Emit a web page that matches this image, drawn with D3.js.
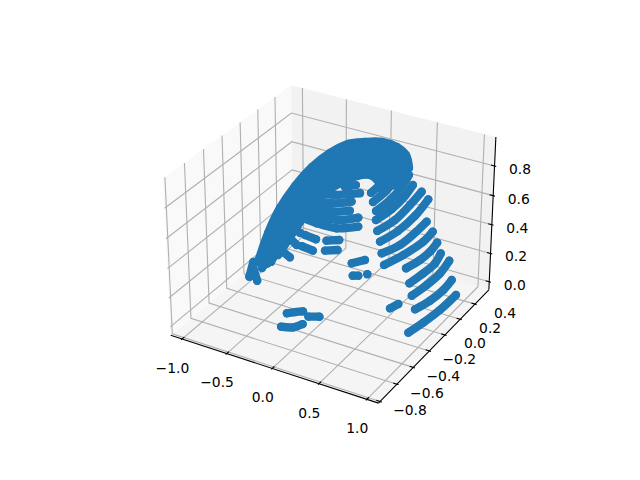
<!DOCTYPE html>
<html><head><meta charset="utf-8">
<style>html,body{margin:0;background:#fff}svg{display:block}text{font-family:"DejaVu Sans";font-size:13.89px;fill:#000}</style>
<script src="https://cdn.jsdelivr.net/npm/d3@7"></script></head><body>
<svg id="c" width="640" height="480"></svg>
<script>
const xLim=[-1.13,1.12], yLim=[-0.818,0.592], zLim=[-0.0583,0.992];
const xTicks=[-1,-0.5,0,0.5,1], yTicks=[-0.8,-0.6,-0.4,-0.2,0,0.2,0.4], zTicks=[0,0.2,0.4,0.6,0.8];
const xTickLabels=["\u22121.0","\u22120.5","0.0","0.5","1.0"];
const yTickLabels=["\u22120.8","\u22120.6","\u22120.4","\u22120.2","0.0","0.2","0.4"];
const zTickLabels=["0.0","0.2","0.4","0.6","0.8"];

// points, as [x, y, z], one list per visible band
const bandR1=[[.925,-.237,.05],[.965,-.097,.05],[.998,.078,.05],[1.007,.277,.05]];
const bandR2=[[.963,-.205,.2],[1.013,-.077,.2],[1.033,.069,.2],[1.019,.196,.2]];
const bandR3=[[.943,-.226,.3],[.975,-.077,.3],[.985,.079,.3],[.954,.237,.3]];
const bandR4=[[.942,-.258,.4],[.97,-.119,.4],[.98,.016,.4],[.942,.135,.4]];
const bandR5=[[.912,-.268,.5],[.954,-.146,.5],[.964,-.033,.5],[.945,.08,.5]];
const bandR6=[[.71,-.299,.5],[.778,-.144,.5],[.824,.05,.5],[.813,.182,.5]];
const bandR7=[[.719,-.34,.6],[.792,-.205,.6],[.807,-.027,.6],[.803,.112,.6]];
const bandR8=[[.736,-.382,.7],[.785,-.224,.7],[.788,-.021,.7],[.747,.194,.7]];
const bandR9=[[.621,-.283,.7],[.664,-.121,.7],[.65,.08,.7],[.624,.257,.7]];
const bandR10=[[.648,-.332,.8],[.675,-.174,.8],[.662,0,.8],[.626,.14,.8]];
const bandR11=[[.568,-.24,.8],[.579,-.086,.8],[.556,.086,.8],[.501,.238,.8]];
const bandR12=[[.462,-.156,.8],[.464,-.003,.8],[.433,.156,.8],[.377,.294,.8]];
const bandR13=[[.362,-.067,.8],[.357,.071,.8],[.324,.232,.8]];
const domeT1=[[-.9,-.061,.1],[-.817,-.021,.3],[-.825,.13,.4],[-.776,.26,.5],[-.68,.364,.6],[-.521,.413,.7],[-.31,.404,.8],[-.037,.308,.9],[.103,.359,.9],[.276,.346,.9],[.285,.453,.8],[.296,.483,.7]];
const domeT12=[[-.86,-.067,.1],[-.757,-.049,.3],[-.758,.096,.4],[-.713,.224,.5],[-.617,.327,.6],[-.461,.367,.7],[-.26,.361,.8],[-.068,.349,.85],[.07,.398,.85],[.236,.376,.85],[.248,.467,.75],[.314,.424,.7]];
const domeT2=[[-.819,-.073,.1],[-.696,-.076,.3],[-.691,.062,.4],[-.65,.187,.5],[-.553,.289,.6],[-.401,.32,.7],[-.211,.318,.8],[-.098,.389,.8],[.036,.437,.8],[.195,.405,.8],[.21,.481,.7],[.332,.364,.7]];
const domeT23=[[-.805,-.047,.1],[-.652,-.08,.3],[-.636,.047,.4],[-.584,.153,.5],[-.49,.253,.6],[-.339,.283,.7],[-.157,.27,.8],[-.05,.347,.8],[.08,.387,.8],[.232,.345,.8],[.238,.418,.7],[.346,.304,.7]];
const domeT3=[[-.79,-.02,.1],[-.607,-.085,.3],[-.581,.031,.4],[-.517,.119,.5],[-.428,.216,.6],[-.277,.246,.7],[-.103,.223,.8],[-.001,.305,.8],[.125,.336,.8],[.268,.284,.8],[.265,.354,.7],[.36,.244,.7]];
const domeT34=[[-.593,-.06,.3],[-.547,.036,.4],[-.367,.18,.6],[-.225,.207,.7],[-.046,.178,.8],[.052,.258,.8],[.166,.277,.8],[.23,.299,.75],[.288,.283,.7]];
const domeT4a=[[-.656,-.072,.2],[-.578,-.034,.3],[-.512,.041,.4]];
const domeT4b=[[-.305,.143,.6],[-.172,.167,.7],[.012,.133,.8],[.105,.211,.8],[.206,.218,.8],[.191,.313,.7],[.311,.211,.7]];
const domeT45=[[.05,.103,.8],[.144,.167,.8],[.185,.232,.75]];
const domeT5=[[-.148,.045,.7],[-.109,.146,.7],[.087,.073,.8],[.183,.123,.8],[.164,.245,.7],[.31,.14,.7]];
const domeT6=[[.096,-.08,.8],[.166,-.027,.8]];
const bandL1=[[-.271,-.322,.7],[-.125,-.361,.7],[.071,-.379,.7],[.275,-.372,.7],[.432,-.294,.7]];
const bandL2=[[-.299,-.236,.7],[-.164,-.283,.7],[.035,-.303,.7],[.225,-.279,.7],[.35,-.202,.7]];
const bandL3=[[-.098,-.354,.8],[.074,-.382,.8],[.237,-.369,.8],[.359,-.312,.8]];
const bandL4=[[-.151,-.257,.8],[-.006,-.297,.8],[.156,-.284,.8],[.289,-.214,.8]];
const bandL5=[[-.191,-.175,.8],[-.045,-.216,.8],[.104,-.186,.8],[.277,-.102,.8]];
const stubF1=[[.169,-.374,.6],[.265,-.33,.6]];
const stubF2=[[.248,-.476,.6],[.342,-.434,.6]];
const stubF3=[[-.055,-.379,.6],[.073,-.39,.6]];
const stubF4=[[.022,-.498,.6],[.153,-.511,.6]];
const stubF5=[[-.258,-.409,.6],[-.028,-.502,.6]];
const stubF6=[[-.16,-.58,.6],[.033,-.641,.6]];
const stubF7=[[-.389,-.296,.6],[-.113,-.373,.6]];
const footW1=[[-.826,-.236,.1],[-.941,-.075,.1]];
const footW2=[[-.72,-.252,.1],[-.892,-.127,.1]];
const footW3=[[-.806,-.11,.1],[-.924,.128,.1]];
const blobB1=[[.438,-.375,.5],[.515,-.305,.5]];
const blobB2=[[.555,-.493,.5],[.599,-.477,.5]];
const blobB3=[[.657,-.437,.5]];
const blobR=[[.753,-.268,.2],[.784,-.202,.2]];
const blobC1=[[.04,-.755,.2],[.143,-.726,.2],[.189,-.669,.2]];
const blobC2=[[-.033,-.615,.2],[.021,-.58,.2],[.081,-.551,.2]];
const blobC3=[[.17,-.584,.2],[.258,-.553,.2]];
const bands=[domeT1,domeT12,domeT2,domeT23,domeT3,domeT34,domeT4a,domeT4b,domeT45,domeT5,domeT6,footW1,footW2,footW3,stubF7,stubF5,stubF6,stubF3,stubF4,stubF1,stubF2,
  bandL5,bandL4,bandL3,bandL2,bandL1,blobB1,blobB2,blobB3,blobR,blobC1,blobC2,blobC3,
  bandR13,bandR12,bandR11,bandR10,bandR9,bandR8,bandR7,bandR6,bandR5,bandR4,bandR3,bandR2,bandR1];

// matplotlib-style 3D view: elev 30, azim -60, box aspect 4:4:3
const half=[0.5952,0.5952,0.4464];
const sx=d3.scaleLinear().domain(xLim).range([-half[0],half[0]]);
const sy=d3.scaleLinear().domain(yLim).range([-half[1],half[1]]);
const sz=d3.scaleLinear().domain(zLim).range([-half[2],half[2]]);
const el=30*Math.PI/180, az=-60*Math.PI/180, dist=10;
const w=[Math.cos(el)*Math.cos(az),Math.cos(el)*Math.sin(az),Math.sin(el)];
const u=[-Math.sin(az),Math.cos(az),0];
const v=[w[1]*u[2]-w[2]*u[1],w[2]*u[0]-w[0]*u[2],w[0]*u[1]-w[1]*u[0]];
const dot=(p,q)=>p[0]*q[0]+p[1]*q[1]+p[2]*q[2];
const px=d3.scaleLinear().domain([0,0.1]).range([332.7,532.7]);
const py=d3.scaleLinear().domain([0,0.1]).range([236.5,36.5]);
function proj(d){
  const q=[sx(d[0]),sy(d[1]),sz(d[2])], D=dist-dot(q,w);
  return [px(dot(q,u)/D),py(dot(q,v)/D)];
}
const svg=d3.select("#c");
const line=d3.line();
const curve=d3.line().curve(d3.curveCatmullRom.alpha(0.5));
const [x0,x1]=xLim,[y0,y1]=yLim,[z0,z1]=zLim;
const poly=(pts,fill)=>svg.append("path").attr("d",line(pts.map(proj))+"Z").attr("fill",fill);
poly([[x0,y0,z0],[x0,y1,z0],[x0,y1,z1],[x0,y0,z1]],"#f9f9f9");
poly([[x0,y1,z0],[x1,y1,z0],[x1,y1,z1],[x0,y1,z1]],"#f2f2f2");
poly([[x0,y0,z0],[x1,y0,z0],[x1,y1,z0],[x0,y1,z0]],"#f5f5f5");
const strokeL=(pts,col)=>svg.append("path").attr("d",line(pts.map(proj))).attr("fill","none").attr("stroke",col).attr("stroke-width",1.11);
const gridC="#b0b0b0";
xTicks.forEach(t=>strokeL([[t,y0,z0],[t,y1,z0],[t,y1,z1]],gridC));
yTicks.forEach(t=>strokeL([[x1,t,z0],[x0,t,z0],[x0,t,z1]],gridC));
zTicks.forEach(t=>strokeL([[x0,y0,t],[x0,y1,t],[x1,y1,t]],gridC));
// axis lines
strokeL([[x0,y0,z0],[x1,y0,z0]],"#000");
strokeL([[x1,y0,z0],[x1,y1,z0]],"#000");
strokeL([[x1,y1,z0],[x1,y1,z1]],"#000");
// tick marks and labels
const dxT=x1-x0, dyT=y1-y0;
function label(p,off,s){svg.append("text").attr("x",p[0]+off[0]).attr("y",p[1]+off[1]+5).attr("text-anchor","middle").text(s);}
xTicks.forEach((t,i)=>{strokeL([[t,y0+.017*dyT,z0],[t,y0-.008*dyT,z0]],"#000");label(proj([t,y0,z0]),[-9.6,28.8],xTickLabels[i]);});
yTicks.forEach((t,i)=>{strokeL([[x1-.017*dxT,t,z0],[x1+.008*dxT,t,z0]],"#000");label(proj([x1,t,z0]),[30,8.5],yTickLabels[i]);});
zTicks.forEach((t,i)=>{strokeL([[x1-.017*dxT,y1,t],[x1+.008*dxT,y1,t]],"#000");label(proj([x1,y1,t]),[25.5,3],zTickLabels[i]);});
// marks
const col="#1f77b4";
const gm=svg.append("g");
bands.forEach(b=>{
  const pts=b.map(proj);
  gm.append("path").attr("d",curve(pts)).attr("fill","none").attr("stroke",col).attr("stroke-width",8.3).attr("stroke-linecap","round").attr("stroke-linejoin","round");
  gm.selectAll(null).data(pts).enter().append("circle").attr("cx",d=>d[0]).attr("cy",d=>d[1]).attr("r",4.15).attr("fill",col);
});
</script></body></html>
